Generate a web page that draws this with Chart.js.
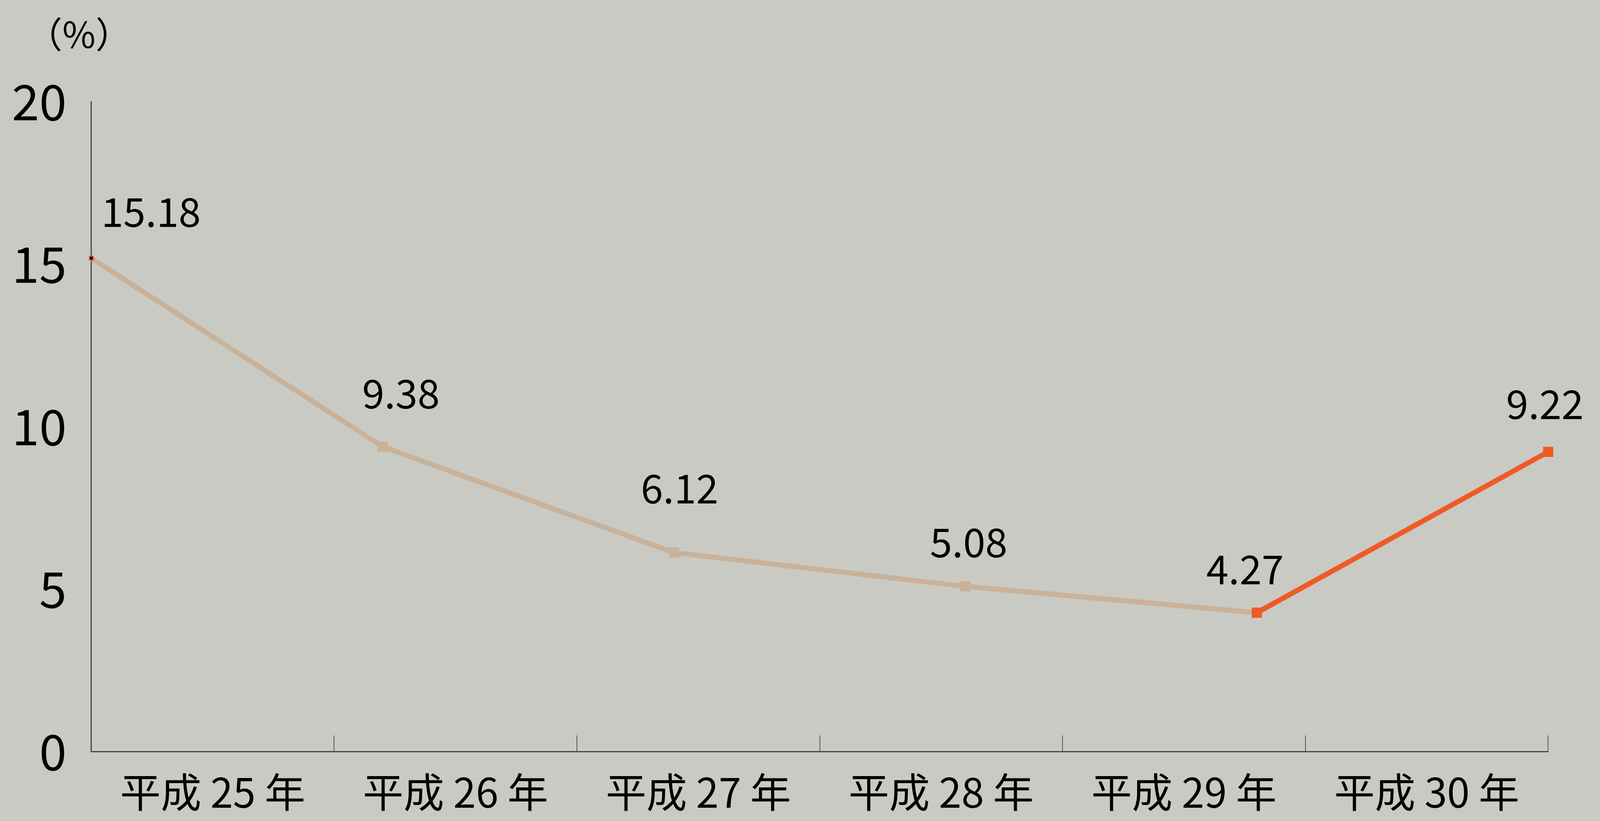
<!DOCTYPE html>
<html>
<head>
<meta charset="utf-8">
<script src="https://cdn.jsdelivr.net/npm/chart.js@4/dist/chart.umd.min.js"></script>
<style>
  html, body { margin: 0; padding: 0; background: #C9CAC4; overflow: hidden; }
  canvas { display: block; }
</style>
</head>
<body>
<canvas id="c"></canvas>
<script>
// ---- data ----
const categories = ['平成 25 年', '平成 26 年', '平成 27 年', '平成 28 年', '平成 29 年', '平成 30 年'];
const values = [15.18, 9.38, 6.12, 5.08, 4.27, 9.22];
const valueLabels = ['15.18', '9.38', '6.12', '5.08', '4.27', '9.22'];
const yTicks = [0, 5, 10, 15, 20];
const unitLabel = '（%）';

// ---- layout (reference pixels, 4906 x 2102) ----
const REF_W = 4906, REF_H = 2102;
const labelNudge = [[183, -119], [56, -136], [17, -165], [10, -113], [-36, -112], [-10, -123]];

const W = window.innerWidth || REF_W;
const H = window.innerHeight || REF_H;
const sx = W / REF_W, sy = H / REF_H;

const canvas = document.getElementById('c');
canvas.width = W; canvas.height = H;
canvas.style.width = W + 'px'; canvas.style.height = H + 'px';

const FONT = '"Noto Sans CJK JP", "Noto Sans", sans-serif';
const BEIGE = '#C8B29A';
const ORANGE = '#EF5A27';

const pastPts = values.slice(0, 5).map((v, i) => ({ x: i, y: v }));
const recentPts = values.slice(4).map((v, i) => ({ x: i + 4, y: v }));

const labelPlugin = {
  id: 'valueLabels',
  afterDatasetsDraw(chart) {
    const ctx = chart.ctx;
    const xs = chart.scales.x2, ys = chart.scales.y;
    ctx.save();
    ctx.fillStyle = '#000';
    ctx.font = Math.round(102 * sy) + 'px ' + FONT;
    ctx.textAlign = 'center';
    ctx.textBaseline = 'middle';
    values.forEach((v, i) => {
      const px = xs.getPixelForValue(i) + labelNudge[i][0] * sx;
      const py = ys.getPixelForValue(v) + labelNudge[i][1] * sy;
      ctx.fillText(valueLabels[i], px, py);
    });
    ctx.font = Math.round(92 * sy) + 'px ' + FONT;
    ctx.fillText(unitLabel, chart.chartArea.left - 38 * sx, 88 * sy);
    ctx.restore();
  }
};

const bgPlugin = {
  id: 'bg',
  beforeDraw(chart) {
    const ctx = chart.ctx;
    ctx.save();
    ctx.fillStyle = '#C9CAC4';
    ctx.fillRect(0, 0, chart.width, chart.height);
    ctx.restore();
  }
};

new Chart(canvas, {
  type: 'line',
  data: {
    datasets: [
      {
        label: 'recent',
        data: recentPts,
        xAxisID: 'x2',
        yAxisID: 'y',
        borderColor: ORANGE,
        backgroundColor: ORANGE,
        borderWidth: 13,
        pointStyle: 'rect',
        pointRadius: 18.5,
        pointBorderWidth: 0,
        pointBackgroundColor: ORANGE,
        tension: 0,
        clip: false,
        order: 0
      },
      {
        label: 'past',
        data: pastPts,
        xAxisID: 'x2',
        yAxisID: 'y',
        borderColor: BEIGE,
        backgroundColor: BEIGE,
        borderWidth: 13,
        pointStyle: 'rect',
        pointRadius: [7, 18.5, 18.5, 18.5, 18.5],
        pointBorderWidth: [2.5, 0, 0, 0, 0],
        pointBorderColor: [ORANGE, BEIGE, BEIGE, BEIGE, BEIGE],
        pointBackgroundColor: ['#000', BEIGE, BEIGE, BEIGE, BEIGE],
        tension: 0,
        clip: false,
        order: 1
      }
    ]
  },
  options: {
    responsive: false,
    animation: false,
    devicePixelRatio: 1,
    layout: { padding: { top: 260 * sy, right: 159 * sx, left: 0, bottom: 0 } },
    plugins: { legend: { display: false }, tooltip: { enabled: false }, title: { display: false } },
    scales: {
      x: {
        type: 'category',
        labels: categories,
        position: 'bottom',
        offset: true,
        afterFit(s) { s.height = 178 * sy; },
        grid: { offset: true, drawOnChartArea: false, drawTicks: true, tickLength: -41 * sy, color: '#555', lineWidth: 2 },
        border: { display: true, color: '#444', width: 3 },
        ticks: { color: '#000', font: { size: Math.round(104 * sy), family: FONT }, padding: 83 * sy, maxRotation: 0, autoSkip: false }
      },
      x2: {
        type: 'linear',
        min: 0,
        max: values.length - 1,
        display: false
      },
      y: {
        type: 'linear',
        min: yTicks[0],
        max: yTicks[yTicks.length - 1],
        afterFit(s) { s.width = 280 * sx; },
        afterBuildTicks(s) { s.ticks = yTicks.map(v => ({ value: v })); },
        grid: { display: false, drawTicks: false },
        border: { display: true, color: '#444', width: 3 },
        ticks: { color: '#000', font: { size: Math.round(126 * sy), family: FONT }, padding: 76 * sx }
      }
    }
  },
  plugins: [bgPlugin, labelPlugin]
});
</script>
</body>
</html>
